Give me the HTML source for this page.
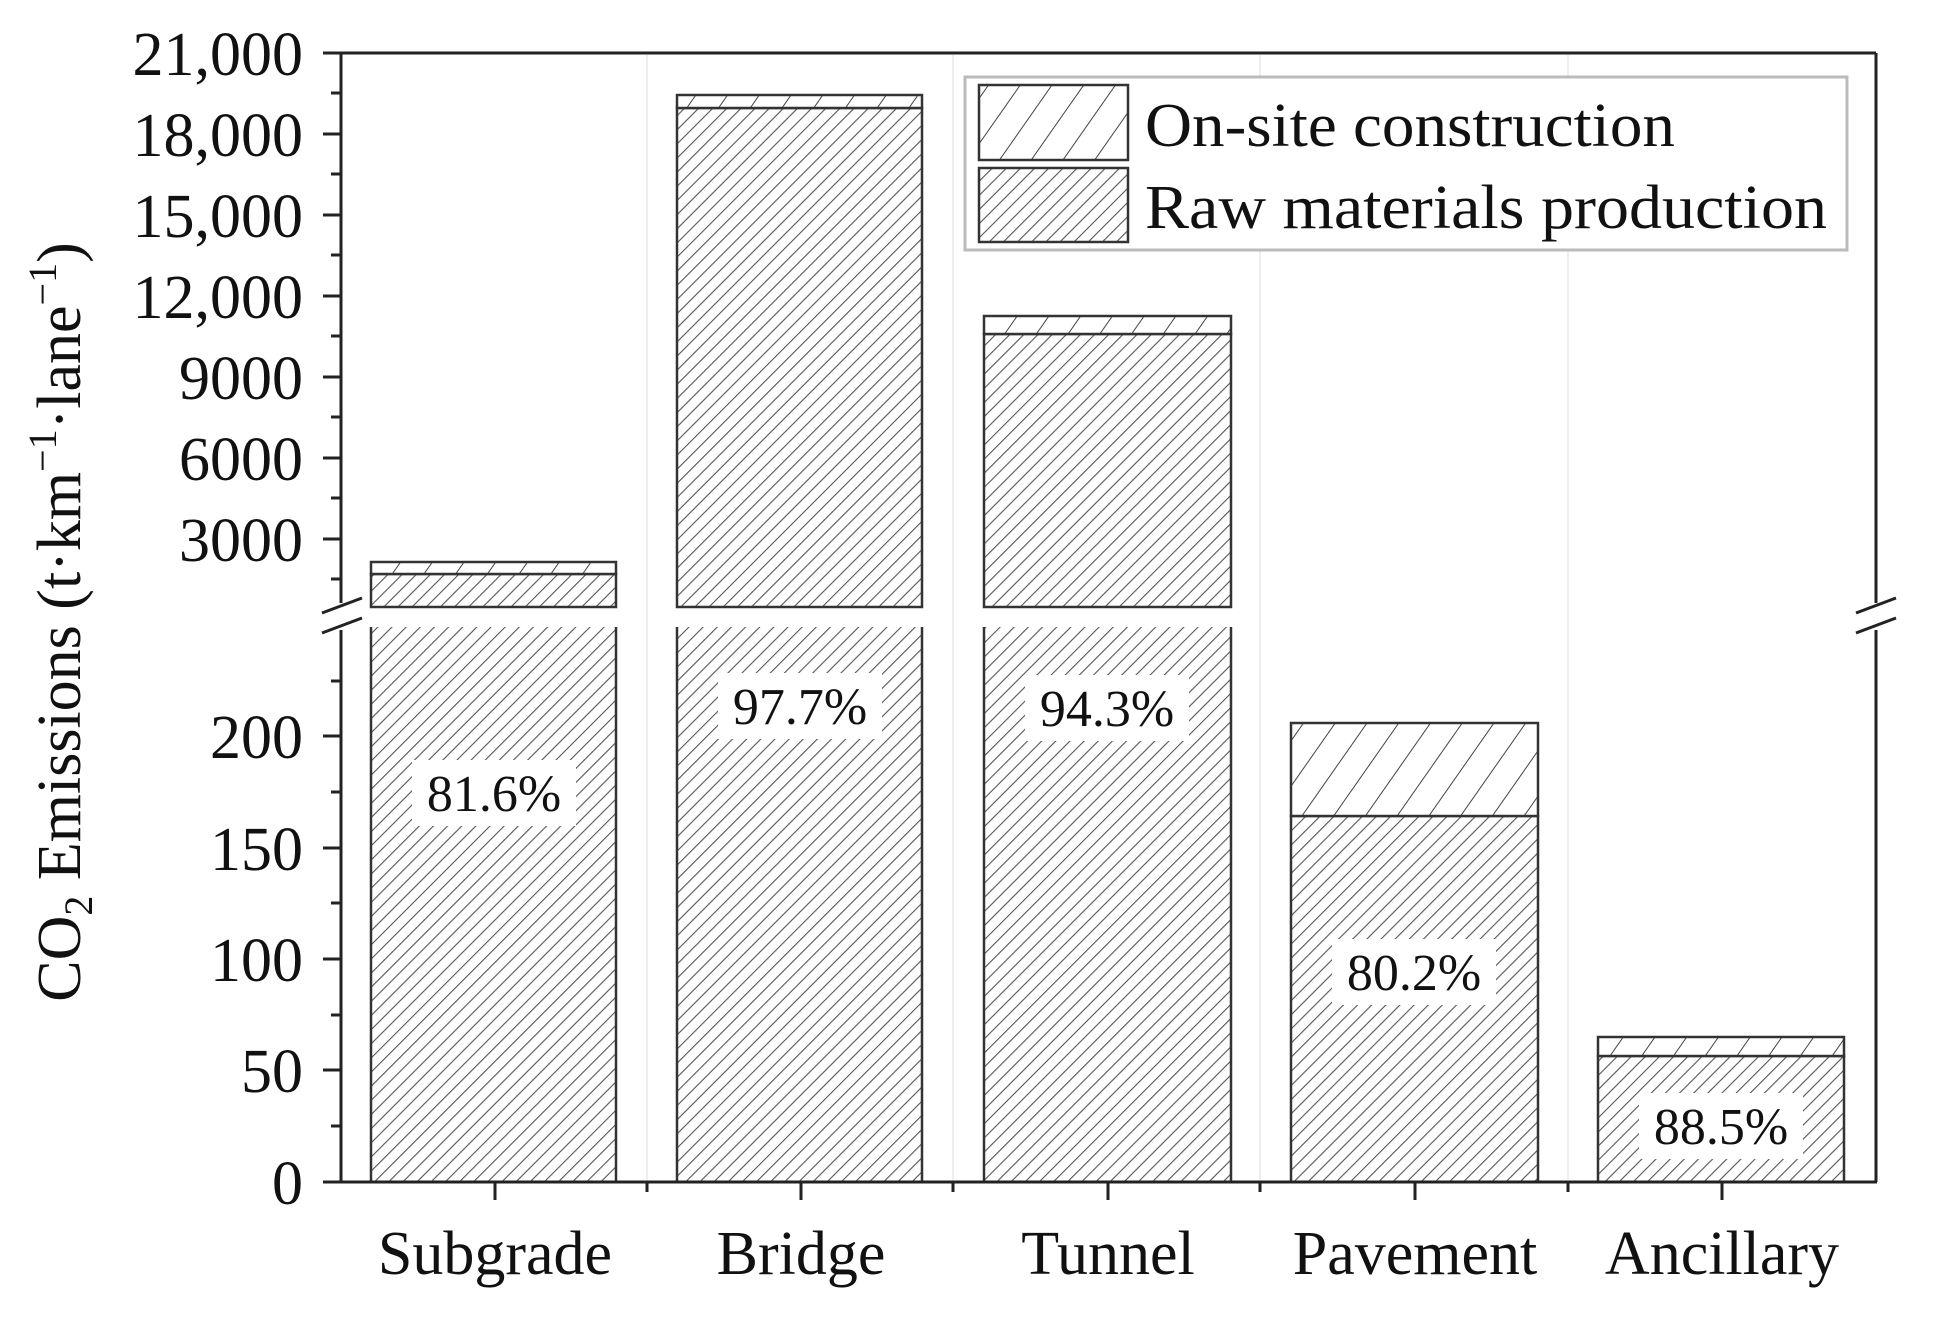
<!DOCTYPE html>
<html><head><meta charset="utf-8"><style>html,body{margin:0;padding:0;background:#fff}svg{display:block}</style></head>
<body>
<svg width="1941" height="1319" viewBox="0 0 1941 1319" xmlns="http://www.w3.org/2000/svg" font-family="'Liberation Serif', serif" fill="#111">
<defs>
<pattern id="raw" patternUnits="userSpaceOnUse" width="10" height="10" patternTransform="rotate(45)">
<rect width="10" height="10" fill="#fff"/><line x1="0" y1="0" x2="0" y2="10" stroke="#555" stroke-width="2.2"/></pattern>
<pattern id="ons" patternUnits="userSpaceOnUse" width="26" height="26" patternTransform="rotate(35)">
<rect width="26" height="26" fill="#fff"/><line x1="0" y1="0" x2="0" y2="26" stroke="#444" stroke-width="2"/></pattern>
</defs>
<rect width="1941" height="1319" fill="#fff"/>
<g stroke="#eee" stroke-width="2">
<line x1="647" y1="55" x2="647" y2="1180"/><line x1="953" y1="55" x2="953" y2="1180"/>
<line x1="1260" y1="55" x2="1260" y2="1180"/><line x1="1568" y1="55" x2="1568" y2="1180"/>
</g>
<g stroke="#333" stroke-width="2.5">
<rect x="371" y="574" width="245" height="33" fill="url(#raw)"/>
<rect x="371" y="562" width="245" height="12" fill="url(#ons)"/>
<rect x="677" y="108" width="245" height="499" fill="url(#raw)"/>
<rect x="677" y="95" width="245" height="13" fill="url(#ons)"/>
<rect x="984" y="334" width="247" height="273" fill="url(#raw)"/>
<rect x="984" y="316" width="247" height="18" fill="url(#ons)"/>
</g>
<g stroke="#333" stroke-width="2.5">
<rect x="371" y="627" width="245" height="555" fill="url(#raw)" stroke-width="0"/>
<line x1="371" y1="627" x2="371" y2="1182"/><line x1="616" y1="627" x2="616" y2="1182"/>
<rect x="677" y="627" width="245" height="555" fill="url(#raw)" stroke-width="0"/>
<line x1="677" y1="627" x2="677" y2="1182"/><line x1="922" y1="627" x2="922" y2="1182"/>
<rect x="984" y="627" width="247" height="555" fill="url(#raw)" stroke-width="0"/>
<line x1="984" y1="627" x2="984" y2="1182"/><line x1="1231" y1="627" x2="1231" y2="1182"/>
<rect x="1291" y="816" width="247" height="366" fill="url(#raw)"/>
<rect x="1291" y="723" width="247" height="93" fill="url(#ons)"/>
<rect x="1598" y="1056" width="246" height="126" fill="url(#raw)"/>
<rect x="1598" y="1037" width="246" height="19" fill="url(#ons)"/>
</g>
<g font-size="52" text-anchor="middle">
<rect x="412" y="760" width="164" height="66" fill="#fff"/><text x="494" y="811">81.6%</text>
<rect x="718" y="673" width="164" height="66" fill="#fff"/><text x="800" y="724">97.7%</text>
<rect x="1025" y="675" width="164" height="66" fill="#fff"/><text x="1107" y="726">94.3%</text>
<rect x="1332" y="939" width="164" height="66" fill="#fff"/><text x="1414" y="990">80.2%</text>
<rect x="1639" y="1093" width="164" height="66" fill="#fff"/><text x="1721" y="1144">88.5%</text>
</g>
<g stroke="#222" stroke-width="3" fill="none">
<line x1="341" y1="53" x2="1876" y2="53"/>
<line x1="341" y1="53" x2="341" y2="603"/>
<line x1="341" y1="630" x2="341" y2="1182"/>
<line x1="1876" y1="53" x2="1876" y2="603"/>
<line x1="1876" y1="630" x2="1876" y2="1182"/>
<line x1="339" y1="1182" x2="1877" y2="1182"/>
</g>
<g stroke="#222" stroke-width="3">
<line x1="322" y1="613" x2="362" y2="598"/><line x1="322" y1="633" x2="362" y2="618"/>
<line x1="1856" y1="613" x2="1896" y2="598"/><line x1="1856" y1="633" x2="1896" y2="618"/>
</g>
<g stroke="#222" stroke-width="3">
<line x1="323" y1="53" x2="341" y2="53"/><line x1="323" y1="134" x2="341" y2="134"/>
<line x1="323" y1="215" x2="341" y2="215"/><line x1="323" y1="296" x2="341" y2="296"/>
<line x1="323" y1="377" x2="341" y2="377"/><line x1="323" y1="458" x2="341" y2="458"/>
<line x1="323" y1="539" x2="341" y2="539"/>
<line x1="331" y1="93" x2="341" y2="93"/><line x1="331" y1="174" x2="341" y2="174"/>
<line x1="331" y1="255" x2="341" y2="255"/><line x1="331" y1="336" x2="341" y2="336"/>
<line x1="331" y1="417" x2="341" y2="417"/><line x1="331" y1="498" x2="341" y2="498"/>
<line x1="331" y1="579" x2="341" y2="579"/>
<line x1="323" y1="1182" x2="341" y2="1182"/><line x1="323" y1="1070" x2="341" y2="1070"/>
<line x1="323" y1="959" x2="341" y2="959"/><line x1="323" y1="848" x2="341" y2="848"/>
<line x1="323" y1="736" x2="341" y2="736"/>
<line x1="331" y1="1126" x2="341" y2="1126"/><line x1="331" y1="1015" x2="341" y2="1015"/>
<line x1="331" y1="903" x2="341" y2="903"/><line x1="331" y1="792" x2="341" y2="792"/>
<line x1="331" y1="681" x2="341" y2="681"/>
<line x1="495" y1="1182" x2="495" y2="1200"/><line x1="801" y1="1182" x2="801" y2="1200"/>
<line x1="1108" y1="1182" x2="1108" y2="1200"/><line x1="1415" y1="1182" x2="1415" y2="1200"/>
<line x1="1722" y1="1182" x2="1722" y2="1200"/>
<line x1="647" y1="1182" x2="647" y2="1192"/><line x1="953" y1="1182" x2="953" y2="1192"/>
<line x1="1260" y1="1182" x2="1260" y2="1192"/><line x1="1568" y1="1182" x2="1568" y2="1192"/>
</g>
<g font-size="62" text-anchor="end">
<text x="303" y="75">21,000</text><text x="303" y="156">18,000</text>
<text x="303" y="237">15,000</text><text x="303" y="318">12,000</text>
<text x="303" y="399">9000</text><text x="303" y="480">6000</text>
<text x="303" y="561">3000</text>
<text x="303" y="758">200</text><text x="303" y="870">150</text>
<text x="303" y="981">100</text><text x="303" y="1092">50</text>
<text x="303" y="1204">0</text>
</g>
<g font-size="62" text-anchor="middle">
<text x="495" y="1274">Subgrade</text><text x="801" y="1274">Bridge</text>
<text x="1108" y="1274">Tunnel</text><text x="1415" y="1274">Pavement</text>
<text x="1722" y="1274">Ancillary</text>
</g>
<text transform="translate(80,622) rotate(-90)" font-size="62" text-anchor="middle">CO<tspan font-size="40" dy="12">2</tspan><tspan dy="-12"> Emissions (t·km</tspan><tspan font-size="40" dy="-24">−1</tspan><tspan dy="24">·lane</tspan><tspan font-size="40" dy="-24">−1</tspan><tspan dy="24">)</tspan></text>
<rect x="965" y="77" width="882" height="173" fill="#fff" stroke="#bbb" stroke-width="3"/>
<rect x="979" y="85" width="149" height="75" fill="url(#ons)" stroke="#333" stroke-width="2.5"/>
<rect x="979" y="168" width="149" height="74" fill="url(#raw)" stroke="#333" stroke-width="2.5"/>
<g font-size="62">
<text x="1145" y="146" textLength="530" lengthAdjust="spacingAndGlyphs">On-site construction</text>
<text x="1145" y="228" textLength="682" lengthAdjust="spacingAndGlyphs">Raw materials production</text>
</g>
</svg>
</body></html>
